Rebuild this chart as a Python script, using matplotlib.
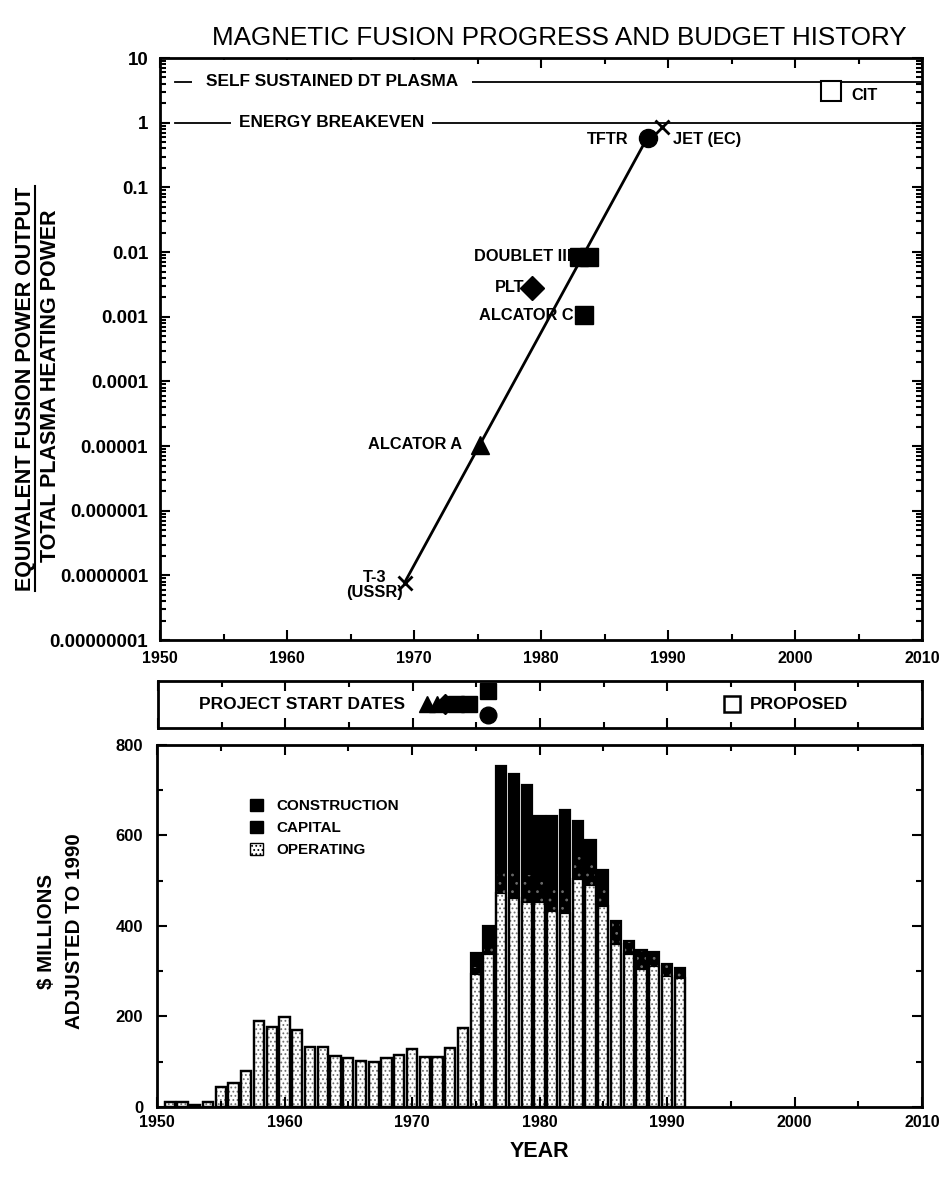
import matplotlib
matplotlib.use("Agg")
import matplotlib.pyplot as plt
import numpy as np
from matplotlib.lines import Line2D
from matplotlib.patches import Patch
from matplotlib.ticker import FixedLocator, LogLocator, MultipleLocator, NullFormatter

plt.rcParams["font.family"] = ["Liberation Sans", "DejaVu Sans"]
plt.rcParams["font.weight"] = "bold"
plt.rcParams["hatch.linewidth"] = 0.8

# -----------------------------
# Progress data (power gain Q)
# -----------------------------
q_ticks = [1e-8, 1e-7, 1e-6, 1e-5, 1e-4, 1e-3, 1e-2, 1e-1, 1, 10]
q_tick_labels = ["0.00000001", "0.0000001", "0.000001", "0.00001", "0.0001",
                 "0.001", "0.01", "0.1", "1", "10"]

self_sustained_q = 4.3
breakeven_q = 1.0

exp_names = ["T-3\n(USSR)", "ALCATOR A", "PLT", "DOUBLET III", "DOUBLET III",
             "ALCATOR C", "TFTR", "JET (EC)", "CIT"]
exp_years = [1969.3, 1975.2, 1979.3, 1983.0, 1983.8, 1983.4, 1988.4, 1989.5, 2002.8]
exp_q = [7.5e-8, 1.05e-5, 0.0028, 0.0085, 0.0085, 0.00105, 0.58, 0.85, 3.1]
exp_markers = ["x", "^", "D", "s", "s", "s", "o", "x", "s"]

trend_years = [1969.3, 1988.4]
trend_q = [8e-8, 0.6]

# -----------------------------
# Project start dates
# -----------------------------
start_years = [1971.1, 1971.9, 1972.5, 1973.4, 1974.4, 1975.9, 1975.9]
start_markers = ["^", "^", "D", "s", "s", "s", "o"]
start_lanes = [0.5, 0.5, 0.5, 0.5, 0.5, 0.78, 0.27]
proposed_year = 1995.1

# -----------------------------
# Budget data ($M, 1990 dollars)
# -----------------------------
budget_years = np.arange(1951, 1992)
operating = [10, 10, 5, 10, 44, 53, 79, 189, 176, 198, 169, 132, 132, 112, 108,
             101, 99, 108, 114, 127, 110, 110, 130, 174, 294, 338, 473, 462, 453,
             453, 433, 429, 503, 490, 444, 360, 338, 305, 312, 290, 286]
capital = [0] * 24 + [15, 20, 55, 60, 60, 55, 50, 50, 57, 50, 40, 51, 29, 42,
                      31, 26, 22]
construction = [0] * 24 + [32, 42, 226, 214, 199, 134, 159, 178, 73, 51, 39,
                           0, 0, 0, 0, 0, 0]

operating = np.array(operating)
capital = np.array(capital)
construction = np.array(construction)
totals = operating + capital + construction

fig = plt.figure(figsize=(9.4, 11.77), dpi=100)

ax1 = fig.add_axes([160 / 940, 0.4562, 762 / 940, 0.4945])
ax2 = fig.add_axes([158 / 940, 0.3815, 764 / 940, 0.0399])
ax3 = fig.add_axes([157 / 940, 0.0595, 765 / 940, 0.3076])

for ax in (ax1, ax2, ax3):
    ax.set_xlim(1950, 2010)
    ax.xaxis.set_major_locator(MultipleLocator(10))
    ax.xaxis.set_minor_locator(MultipleLocator(5))
    ax.tick_params(which="both", direction="in", top=True, right=True,
                   width=1.5, labelsize=11.5)
    ax.tick_params(which="major", length=7)
    ax.tick_params(which="minor", length=4)
    for sp in ax.spines.values():
        sp.set_linewidth(2)

# -----------------------------
# Top: progress chart
# -----------------------------
ax1.set_yscale("log")
ax1.set_ylim(1e-8, 10)
ax1.yaxis.set_major_locator(FixedLocator(q_ticks))
ax1.set_yticklabels(q_tick_labels)
ax1.yaxis.set_minor_locator(LogLocator(base=10, subs=np.arange(2, 10), numticks=20))
ax1.yaxis.set_minor_formatter(NullFormatter())
ax1.tick_params(axis="x", pad=8)
ax1.tick_params(axis="y", pad=8.5, labelsize=13.5)

ax1.axhline(self_sustained_q, xmin=0.02, color="black", lw=1.3)
ax1.axhline(breakeven_q, xmin=0.02, color="black", lw=1.3)
ax1.text(1953.6, self_sustained_q, "SELF SUSTAINED DT PLASMA", fontsize=12.4,
         ha="left", va="center",
         bbox=dict(boxstyle="square,pad=0.8", fc="white", ec="none"))
ax1.text(1956.2, breakeven_q, "ENERGY BREAKEVEN", fontsize=12.4,
         ha="left", va="center",
         bbox=dict(boxstyle="square,pad=0.45", fc="white", ec="none"))

ax1.plot(trend_years, trend_q, color="black", lw=2)

for name, yr, q, m in zip(exp_names, exp_years, exp_q, exp_markers):
    if name == "CIT":
        ax1.plot(yr, q, marker=m, ms=15, mfc="white", mec="black", mew=1.5)
    elif m == "x":
        ax1.plot(yr, q, marker=m, ms=10, color="black", mew=2)
    else:
        ax1.plot(yr, q, marker=m, ms=13 if m != "D" else 12, color="black")

label_pos = {
    "T-3\n(USSR)": (1966.9, 7e-8, "center"),
    "ALCATOR A": (1973.8, 1.05e-5, "right"),
    "PLT": (1978.7, 0.0028, "right"),
    "DOUBLET III": (1982.4, 0.0085, "right"),
    "ALCATOR C": (1982.6, 0.00103, "right"),
    "TFTR": (1986.9, 0.55, "right"),
    "JET (EC)": (1990.4, 0.55, "left"),
    "CIT": (2004.4, 2.6, "left"),
}
for name, (x, y, ha) in label_pos.items():
    ax1.text(x, y, name, fontsize=11.8, ha=ha, va="center", linespacing=1.0)

# -----------------------------
# Middle: project start dates
# -----------------------------
ax2.set_ylim(0, 1)
ax2.set_yticks([])
ax2.tick_params(labelbottom=False, right=False)
ax2.text(1953.2, 0.5, "PROJECT START DATES", fontsize=12.5, ha="left", va="center")
for yr, lane, m in zip(start_years, start_lanes, start_markers):
    ax2.plot(yr, lane, marker=m, ms=12 if m != "D" else 10, color="black")
ax2.plot(proposed_year, 0.5, marker="s", ms=12, mfc="white", mec="black", mew=1.8)
ax2.text(proposed_year + 1.4, 0.5, "PROPOSED", fontsize=12.5, ha="left", va="center")

# -----------------------------
# Bottom: budget history
# -----------------------------
ax3.set_ylim(0, 800)
ax3.yaxis.set_major_locator(MultipleLocator(200))
ax3.yaxis.set_minor_locator(MultipleLocator(100))
ax3.tick_params(axis="x", pad=6)
ax3.tick_params(axis="y", pad=10, labelsize=12)

width = 0.82
ax3.bar(budget_years, operating, width, color="white", edgecolor="#707070",
        hatch="....", linewidth=0)
ax3.bar(budget_years, operating, width, fill=False, edgecolor="black", linewidth=1.6)
ax3.bar(budget_years, capital, width, bottom=operating, color="black",
        edgecolor="#6a6a6a", hatch="..", linewidth=0)
ax3.bar(budget_years, construction, width, bottom=operating + capital,
        color="black", linewidth=0)
ax3.bar(budget_years, totals, width, fill=False, edgecolor="black", linewidth=1.6)

handles = [
    Patch(facecolor="black", edgecolor="black"),
    Patch(facecolor="black", edgecolor="black"),
    Patch(facecolor="white", edgecolor="black", hatch="...."),
]
ax3.legend(handles, ["CONSTRUCTION", "CAPITAL", "OPERATING"],
           loc="upper left", bbox_to_anchor=(0.122, 0.85), frameon=False,
           handlelength=0.8, handleheight=0.8, handletextpad=0.9,
           labelspacing=0.5, borderaxespad=0, borderpad=0,
           prop=dict(size=11, weight="bold"))

ax3.set_xlabel("YEAR", fontsize=15.5, labelpad=8, weight="bold")

# -----------------------------
# Figure texts
# -----------------------------
fig.text(559 / 940, 0.968, "MAGNETIC FUSION PROGRESS AND BUDGET HISTORY",
         fontsize=18.7, weight="normal", ha="center", va="center")

t_num = fig.text(26 / 940, 0.670, "EQUIVALENT FUSION POWER OUTPUT", fontsize=15.5,
                 rotation=90, ha="center", va="center")
fig.text(51 / 940, 0.672, "TOTAL PLASMA HEATING POWER", fontsize=15.5,
         rotation=90, ha="center", va="center")

fig.text(47 / 940, 0.209, "$ MILLIONS", fontsize=14.8, rotation=90,
         ha="center", va="center")
fig.text(75 / 940, 0.209, "ADJUSTED TO 1990", fontsize=14.8, rotation=90,
         ha="center", va="center")

fig.canvas.draw()
bb = t_num.get_window_extent().transformed(fig.transFigure.inverted())
fig.add_artist(Line2D([35 / 940, 35 / 940], [bb.y0, bb.y1],
                      transform=fig.transFigure, color="black", lw=1.5))

fig.savefig("out.png", dpi=100)
